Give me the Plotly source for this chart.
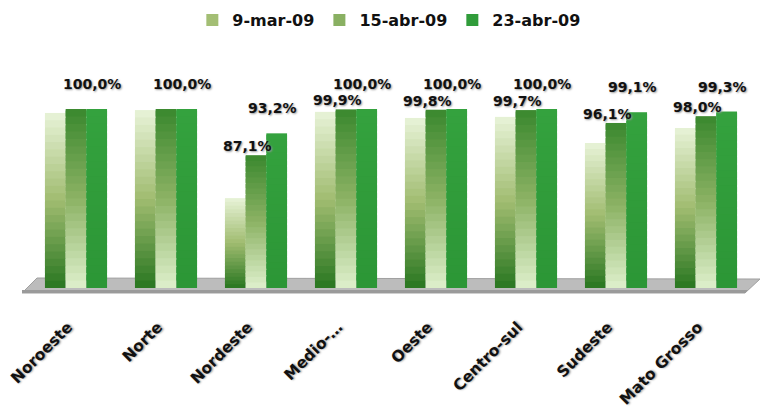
import plotly.graph_objects as go

categories = ["Noroeste", "Norte", "Nordeste", "Medio-…", "Oeste", "Centro-sul", "Sudeste", "Mato Grosso"]
series_names = ["9-mar-09", "15-abr-09", "23-abr-09"]
s_mar09 = [98.9, 99.7, 75.1, 99.2, 97.5, 97.8, 90.5, 94.7]
s_abr15 = [100.0, 100.0, 87.1, 99.9, 99.8, 99.7, 96.1, 98.0]
s_abr23 = [100.0, 100.0, 93.2, 100.0, 100.0, 100.0, 99.1, 99.3]

AXIS_MIN = 50
AXIS_MAX = 100
N_SEG = 24

# gradient stops (fraction from bottom -> colour)
grad1 = [(0.0, (40, 118, 32)), (0.5, (160, 188, 112)), (1.0, (232, 243, 216))]
grad2 = [(0.0, (222, 240, 204)), (0.5, (140, 178, 100)), (1.0, (58, 136, 46))]
grad3 = [(0.0, (44, 150, 54)), (1.0, (52, 162, 62))]


def interp(stops, t):
    for (t0, c0), (t1, c1) in zip(stops[:-1], stops[1:]):
        if t <= t1:
            f = (t - t0) / (t1 - t0) if t1 > t0 else 0
            return "rgb(%d,%d,%d)" % tuple(round(a + (b - a) * f) for a, b in zip(c0, c1))
    return "rgb(%d,%d,%d)" % stops[-1][1]


fig = go.Figure()

for name, vals, grad, grp in [
    (series_names[0], s_mar09, grad1, "g1"),
    (series_names[1], s_abr15, grad2, "g2"),
    (series_names[2], s_abr23, grad3, "g3"),
]:
    seg_h = [(v - AXIS_MIN) / N_SEG for v in vals]
    for k in range(N_SEG):
        base = [AXIS_MIN + k * h for h in seg_h]
        # each segment slightly overlaps the next one to avoid seams
        heights = [h * 1.8 if k < N_SEG - 1 else h for h in seg_h]
        col = interp(grad, (k + 0.5) / N_SEG)
        fig.add_trace(go.Bar(
            x=categories, y=heights, base=base,
            offsetgroup=grp, name=name, legendgroup=grp,
            showlegend=(k == N_SEG // 2),
            marker=dict(color=col, line=dict(width=0)),
            hoverinfo="skip",
        ))

label_font = dict(family="DejaVu Sans", size=14, color="#111111",
                  weight="bold", shadow="1px 1px 2px #999")


def fmt(v):
    return ("%.1f" % v).replace(".", ",") + "%"


annotations = []
for i, c in enumerate(categories):
    # 15-abr-09 label (middle bar); hidden when it coincides with 23-abr-09
    if s_abr15[i] != s_abr23[i]:
        annotations.append(dict(x=c, y=s_abr15[i], xref="x", yref="y", text=fmt(s_abr15[i]),
                                showarrow=False, xshift=-9, yshift=-1, yanchor="bottom",
                                font=label_font))
    annotations.append(dict(x=c, y=s_abr23[i], xref="x", yref="y", text=fmt(s_abr23[i]),
                            showarrow=False, xshift=16, yshift=15, yanchor="bottom",
                            font=label_font))

# the page body has an 8px margin, so the figure is laid out 8px smaller/offset
OFF = 8
W, H = 769 - OFF, 409 - OFF
L, R, T = 31 - OFF, 18, 109 - OFF
B = H - (288 - OFF)
pw, ph = W - L - R, H - T - B


def px(xp, yp):
    return (xp - OFF - L) / pw, (H - B - (yp - OFF)) / ph


tl, tr, br, bl = px(37, 278), px(760, 279), px(745, 293), px(22, 293)
floor_path = "M %f %f L %f %f L %f %f L %f %f Z" % (*tl, *tr, *br, *bl)
fl1, fr1 = px(22, 290), px(748, 290)
edge_path = "M %f %f L %f %f L %f %f L %f %f Z" % (*fl1, *fr1, *br, *bl)

fig.update_layout(
    width=W, height=H,
    margin=dict(l=L, r=R, t=T, b=B, autoexpand=False),
    paper_bgcolor="white", plot_bgcolor="rgba(0,0,0,0)",
    barmode="group", bargap=0.31, bargroupgap=0.0,
    showlegend=True,
    legend=dict(orientation="h", x=0.497, xanchor="center", y=px(0, 20)[1], yanchor="middle",
                font=dict(family="DejaVu Sans", size=16, color="#111111", weight="bold"),
                traceorder="normal", itemwidth=30),
    xaxis=dict(showgrid=False, zeroline=False, showline=False, ticks="", automargin=False,
               tickangle=-45, ticklabelstandoff=26, ticklabelshift=-8,
               tickfont=dict(family="DejaVu Sans", size=15.5, color="#111111",
                             weight="bold", shadow="1px 1px 2px #999")),
    yaxis=dict(range=[AXIS_MIN, AXIS_MAX], showgrid=False, zeroline=False, automargin=False,
               showline=False, showticklabels=False, ticks=""),
    annotations=annotations,
    shapes=[
        dict(type="path", path=floor_path, xref="paper", yref="paper",
             fillcolor="#bcbcbc", line=dict(color="#a0a0a0", width=1), layer="below"),
        dict(type="path", path=edge_path, xref="paper", yref="paper",
             fillcolor="#9a9a9a", line=dict(width=0), layer="below"),
    ],
)

fig.write_html("out.html")
